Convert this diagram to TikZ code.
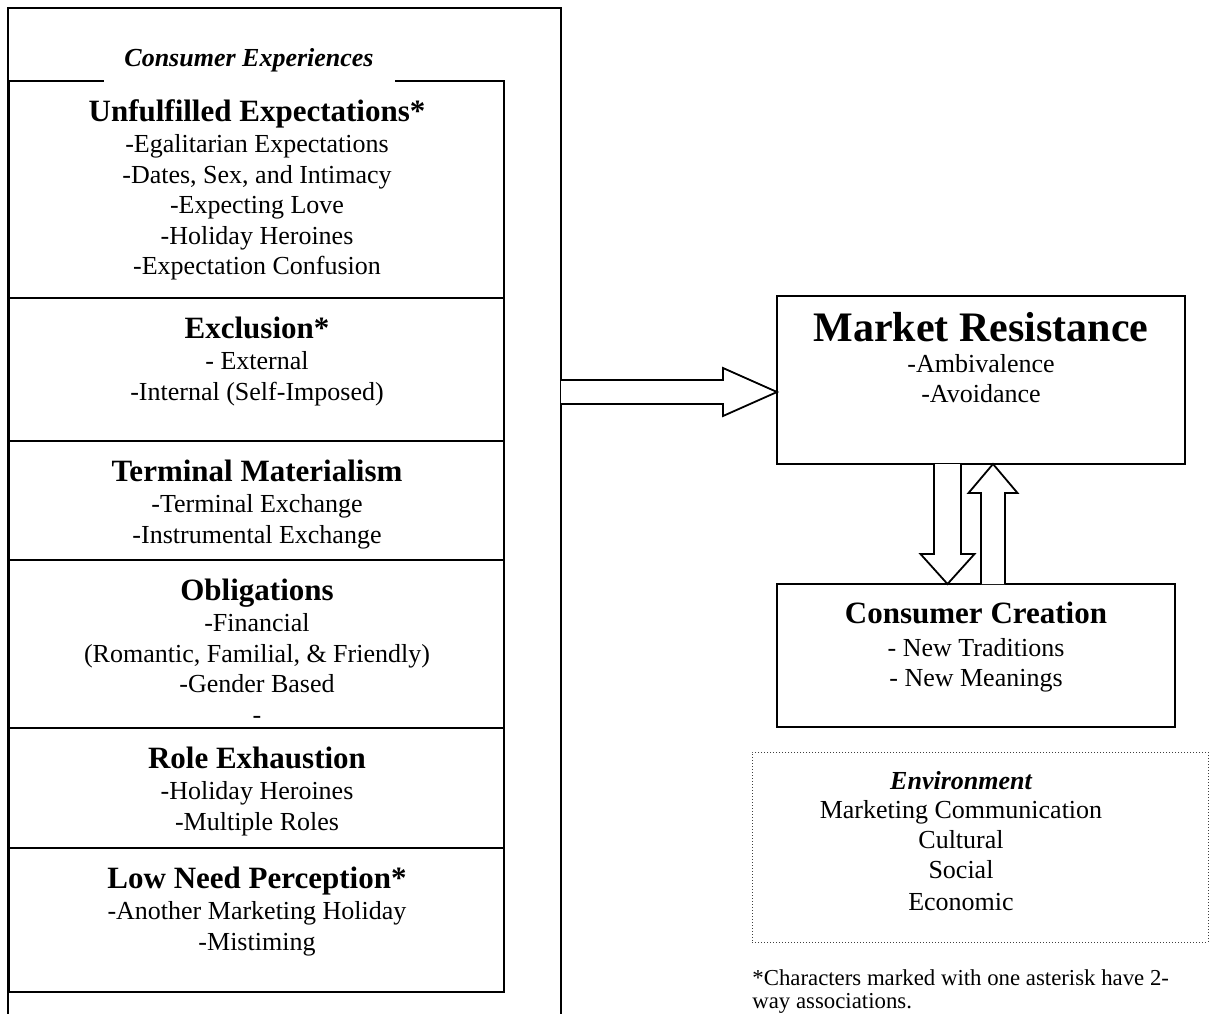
\documentclass[tikz,border=0pt]{standalone}
\usepackage{fontspec}
\setmainfont{Liberation Serif}
\usetikzlibrary{calc}
\begin{document}
\begin{tikzpicture}[x=0.5pt,y=-0.5pt,
  ibox/.style={draw, line width=0.9pt, anchor=north west, inner sep=0pt, outer sep=0pt, minimum width=247.5pt},
  hd/.style={font=\fontsize{15.5}{18}\selectfont\bfseries, anchor=base, inner sep=0pt},
  bd/.style={font=\fontsize{13}{15}\selectfont, anchor=base, inner sep=0pt},
  fn/.style={font=\fontsize{11.4}{13}\selectfont, anchor=base west, inner sep=0pt},
  blk/.style={draw, line width=0.9pt, fill=white, line join=miter},
  env/.style={draw=black!75, line width=0.5pt, dash pattern=on 0.5pt off 1pt, anchor=north west, inner sep=0pt, outer sep=0pt}]
\useasboundingbox (0,0) rectangle (1209,1013);
% outer frame
\draw[line width=1.2pt] (8,1016) coordinate (ceBL) -- (8,8) coordinate (ceTL) -- (561,8) coordinate (ceTR) -- (561,1016) coordinate (ceBR);
% inner boxes
\node[ibox, minimum height=108.5pt] (b1) at (9,81) {};
\node[ibox, minimum height=71.5pt] (b2) at (9,298) {};
\node[ibox, minimum height=59.5pt] (b3) at (9,441) {};
\node[ibox, minimum height=84pt] (b4) at (9,560) {};
\node[ibox, minimum height=60pt] (b5) at (9,728) {};
\node[ibox, minimum height=72pt] (b6) at (9,848) {};
% title
\node[anchor=base, fill=white, inner sep=0pt, text height=13pt, text depth=9pt, minimum width=145.5pt,
  font=\fontsize{13}{15}\selectfont\bfseries\itshape] (title) at (249,66) {Consumer Experiences};
% box 1
\node[hd] (h1) at (257,121) {Unfulfilled Expectations*};
\node[bd] (t1a) at (257,152.5) {-Egalitarian Expectations};
\node[bd] (t1b) at (257,183) {-Dates, Sex, and Intimacy};
\node[bd] (t1c) at (257,213.5) {-Expecting Love};
\node[bd] (t1d) at (257,244) {-Holiday Heroines};
\node[bd] (t1e) at (257,274.5) {-Expectation Confusion};
% box 2
\node[hd] (h2) at (257,338) {Exclusion*};
\node[bd] (t2a) at (257,369.5) {- External};
\node[bd] (t2b) at (257,400) {-Internal (Self-Imposed)};
% box 3
\node[hd] (h3) at (257,481) {Terminal Materialism};
\node[bd] (t3a) at (257,512.5) {-Terminal Exchange};
\node[bd] (t3b) at (257,543) {-Instrumental Exchange};
% box 4
\node[hd] (h4) at (257,600) {Obligations};
\node[bd] (t4a) at (257,631.5) {-Financial};
\node[bd] (t4b) at (257,662) {(Romantic, Familial, \& Friendly)};
\node[bd] (t4c) at (257,692.5) {-Gender Based};
\node[bd] (t4d) at (257,723) {-};
% box 5
\node[hd] (h5) at (257,768) {Role Exhaustion};
\node[bd] (t5a) at (257,799.5) {-Holiday Heroines};
\node[bd] (t5b) at (257,830) {-Multiple Roles};
% box 6
\node[hd] (h6) at (257,888) {Low Need Perception*};
\node[bd] (t6a) at (257,919.5) {-Another Marketing Holiday};
\node[bd] (t6b) at (257,950) {-Mistiming};
% market resistance
\node[draw, line width=1.2pt, anchor=north west, inner sep=0pt, outer sep=0pt, minimum width=204pt, minimum height=84pt] (mr) at (777,296) {};
\node[font=\fontsize{21}{24}\selectfont\bfseries, anchor=base, inner sep=0pt] (mrh) at (981,341) {Market Resistance};
\node[bd] (mra) at (981,372.5) {-Ambivalence};
\node[bd] (mrb) at (981,402.5) {-Avoidance};
% consumer creation
\node[draw, line width=1pt, anchor=north west, inner sep=0pt, outer sep=0pt, minimum width=199pt, minimum height=71.5pt] (cc) at (777,584) {};
\node[hd] (cch) at (976,623) {Consumer Creation};
\node[bd] (cca) at (976,656.5) {- New Traditions};
\node[bd] (ccb) at (976,686.5) {- New Meanings};
% environment
\node[env, minimum width=228pt, minimum height=95pt] (envb) at (752,752) {};
\node[anchor=base, inner sep=0pt, font=\fontsize{13}{15}\selectfont\bfseries\itshape] (envh) at (961,789) {Environment};
\node[bd] (enva) at (961,818.5) {Marketing Communication};
\node[bd] (envc) at (961,848.5) {Cultural};
\node[bd] (envd) at (961,878.5) {Social};
\node[bd] (enve) at (961,910.5) {Economic};
% footnote
\node[fn] (fn1) at (752,985) {*Characters marked with one asterisk have 2-};
\node[fn] (fn2) at (752,1008) {way associations.};
% right block arrow
\coordinate (ceR) at (561,392);
\coordinate (rTip) at (mr.west |- ceR);
\draw[blk] ($(ceR)+(0,-12)$) -- ($(rTip)+(-54,-12)$) -- ($(rTip)+(-54,-24)$) -- (rTip) -- ($(rTip)+(-54,24)$) -- ($(rTip)+(-54,12)$) -- ($(ceR)+(0,12)$);
% down block arrow
\coordinate (dTop) at ($(mr.south west)+(170.5,0)$);
\coordinate (dTip) at (dTop |- cc.north);
\draw[blk] ($(dTop)+(-13.5,0)$) -- ($(dTip)+(-13.5,-30)$) -- ($(dTip)+(-27,-30)$) -- (dTip) -- ($(dTip)+(27,-30)$) -- ($(dTip)+(13.5,-30)$) -- ($(dTop)+(13.5,0)$);
% up block arrow
\coordinate (uBot) at ($(cc.north west)+(216,0)$);
\coordinate (uTip) at (uBot |- mr.south);
\draw[blk] ($(uBot)+(-12,0)$) -- ($(uTip)+(-12,29)$) -- ($(uTip)+(-24.5,29)$) -- (uTip) -- ($(uTip)+(24.5,29)$) -- ($(uTip)+(12,29)$) -- ($(uBot)+(12,0)$);
\end{tikzpicture}
\end{document}
